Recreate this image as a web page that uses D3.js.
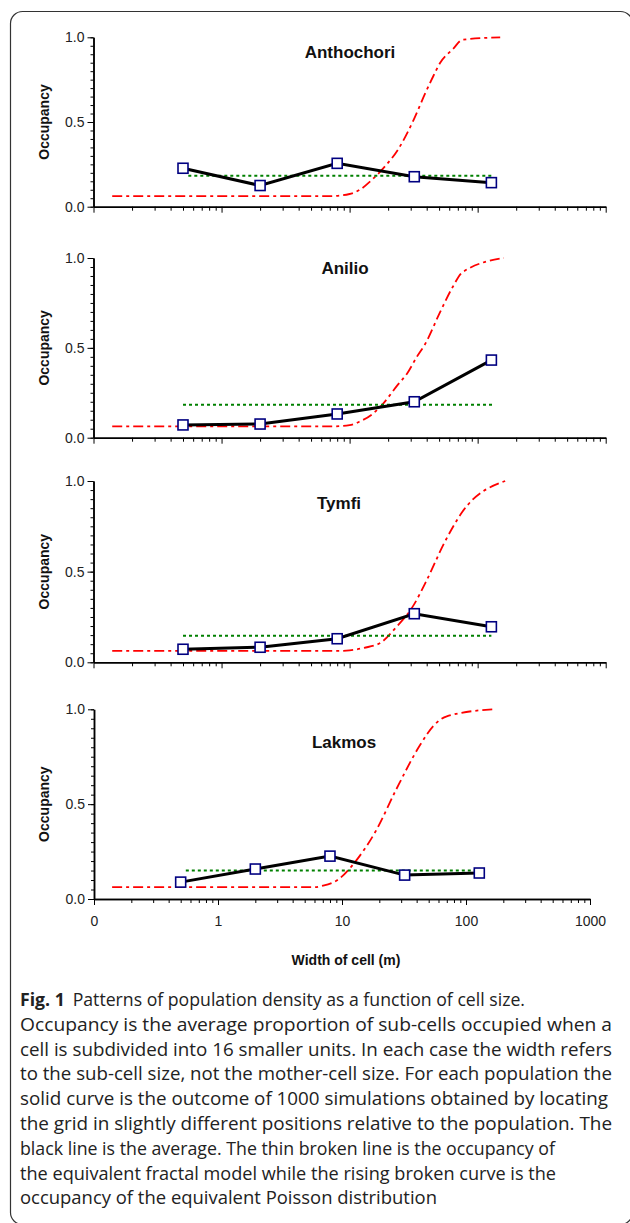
<!DOCTYPE html>
<html>
<head>
<meta charset="utf-8">
<script src="https://cdn.jsdelivr.net/npm/d3@7"></script>
<style>
  body { margin: 0; background: #fff; }
  svg { display: block; }
</style>
</head>
<body>
<div class="figure"></div>
<script>
  // data
  var panelNames = ["Anthochori", "Anilio", "Tymfi", "Lakmos"];
  var cellWidths = [0.5, 2, 8, 32, 128];
  var avgOccupancy = [
    [0.227, 0.125, 0.256, 0.177, 0.142],
    [0.071, 0.076, 0.132, 0.2, 0.432],
    [0.072, 0.083, 0.13, 0.268, 0.196],
    [0.089, 0.158, 0.226, 0.126, 0.137]
  ];
  var fractalLevel = [0.183, 0.183, 0.147, 0.15];
  var fractalFrom = [0.55, 0.5, 0.5, 0.55];
  var fractalTo = [130, 132, 128, 128];
  var poissonWidths = [
    [0.14, 7, 10, 12, 15, 19, 24, 31.5, 39, 45, 51, 64, 76, 150],
    [0.14, 7, 10, 12, 15, 18.3, 23.5, 28.3, 33.5, 38.8, 51, 64, 76, 160],
    [0.14, 8, 10, 13, 17.3, 23.3, 31.1, 40.1, 55, 76, 164],
    [0.14, 6, 7, 9.2, 13.1, 18.9, 27.2, 42.5, 55.2, 70, 163]
  ];
  var poissonOccupancy = [
    [0.0625, 0.0625, 0.075, 0.1, 0.16, 0.24, 0.34, 0.51, 0.67, 0.77, 0.85, 0.93, 0.985, 1.0],
    [0.0625, 0.0625, 0.07, 0.09, 0.13, 0.19, 0.29, 0.36, 0.45, 0.52, 0.7, 0.84, 0.92, 1.0],
    [0.0625, 0.0625, 0.066, 0.08, 0.106, 0.196, 0.307, 0.454, 0.66, 0.83, 1.0],
    [0.0625, 0.0625, 0.07, 0.1, 0.205, 0.363, 0.574, 0.81, 0.916, 0.963, 1.0]
  ];
  var xMajorTicks = [0.1, 1, 10, 100, 1000];
  var xTickLabels = ["0", "1", "10", "100", "1000"];
  var yMajorTicks = [0, 0.5, 1];
  var yTickLabels = ["0.0", "0.5", "1.0"];
  var captionLines = [
    "Occupancy is the average proportion of sub-cells occupied when a",
    "cell is subdivided into 16 smaller units. In each case the width refers",
    "to the sub-cell size, not the mother-cell size. For each population the",
    "solid curve is the outcome of 1000 simulations obtained by locating",
    "the grid in slightly different positions relative to the population. The",
    "black line is the average. The thin broken line is the occupancy of",
    "the equivalent fractal model while the rising broken curve is the",
    "occupancy of the equivalent Poisson distribution"
  ];
  // measured line widths of the printed caption
  var captionWidths = [505, 592, 592, 592, 588, 592, 535, 536, 417];

  // each panel was pasted in at its own size
  var layout = [
    {top: 37.3, bottom: 206.7, left: 93.5, right: 605.7, titleX: 350, titleY: 58},
    {top: 258, bottom: 437.7, left: 93.5, right: 605.7, titleX: 345, titleY: 274},
    {top: 481, bottom: 662.3, left: 93.5, right: 605.7, titleX: 339, titleY: 509},
    {top: 709.3, bottom: 899, left: 94, right: 590, titleX: 344, titleY: 748}
  ];

  var width = 630, height = 1223;
  var axisFont = '"Liberation Sans", Arial, Helvetica, sans-serif';

  var svg = d3.select(".figure").append("svg")
    .attr("width", width)
    .attr("height", height);

  // rounded frame, partly cut by the page
  svg.append("rect")
    .attr("x", 10.5).attr("y", 11.5)
    .attr("width", 622).attr("height", 1213)
    .attr("rx", 12).attr("ry", 12)
    .attr("fill", "none")
    .attr("stroke", "#333")
    .attr("stroke-width", 1.2);

  var xMinorTicks = [];
  [0.1, 1, 10, 100].forEach(function(d) {
    for (var k = 2; k <= 9; k++) xMinorTicks.push(d * k);
  });
  var yMinorTicks = d3.range(0, 21).map(function(i) { return i * 0.05; });

  panelNames.forEach(function(name, i) {
    var L = layout[i];
    var x = d3.scaleLog().domain([0.1, 1000]).range([L.left, L.right]);
    var y = d3.scaleLinear().domain([0, 1]).range([L.bottom, L.top]);
    var g = svg.append("g").attr("class", "panel");

    // y axis
    g.append("g")
      .attr("transform", "translate(" + L.left + ",0)")
      .call(d3.axisLeft(y).tickValues(yMinorTicks).tickSize(3).tickSizeOuter(0).tickFormat(""));
    g.append("g")
      .attr("transform", "translate(" + L.left + ",0)")
      .call(d3.axisLeft(y).tickValues(yMajorTicks).tickSize(6).tickSizeOuter(0).tickPadding(3)
        .tickFormat(function(d, j) { return yTickLabels[j]; }));

    // x axis
    g.append("g")
      .attr("transform", "translate(0," + L.bottom + ")")
      .call(d3.axisBottom(x).tickValues(xMinorTicks).tickSize(4).tickSizeOuter(0).tickFormat(""));
    g.append("g")
      .attr("transform", "translate(0," + L.bottom + ")")
      .call(d3.axisBottom(x).tickValues(xMajorTicks).tickSize(6).tickSizeOuter(0).tickPadding(11)
        .tickFormat(function(d, j) { return i === 3 ? xTickLabels[j] : ""; }));

    g.selectAll(".domain").attr("stroke", "#000").attr("stroke-width", 1.5);
    g.selectAll(".tick line").attr("stroke", "#000").attr("stroke-width", 1);
    g.selectAll(".tick text")
      .attr("font-family", axisFont)
      .attr("font-size", 14)
      .attr("fill", "#222");

    // y title
    g.append("text")
      .attr("transform", "translate(44," + ((L.top + L.bottom) / 2) + ") rotate(-90)")
      .attr("dy", "0.35em")
      .attr("text-anchor", "middle")
      .attr("font-family", axisFont)
      .attr("font-weight", "bold")
      .attr("font-size", 14)
      .attr("fill", "#111")
      .text("Occupancy");

    // panel title
    g.append("text")
      .attr("x", L.titleX).attr("y", L.titleY)
      .attr("text-anchor", "middle")
      .attr("font-family", axisFont)
      .attr("font-weight", "bold")
      .attr("font-size", 17)
      .attr("fill", "#111")
      .text(name);

    // Poisson curve
    var poisson = poissonWidths[i].map(function(w, j) { return [w, poissonOccupancy[i][j]]; });
    var line = d3.line()
      .x(function(d) { return x(d[0]); })
      .y(function(d) { return y(d[1]); })
      .curve(d3.curveMonotoneX);
    g.append("path")
      .datum(poisson)
      .attr("d", line)
      .attr("fill", "none")
      .attr("stroke", "#ff0000")
      .attr("stroke-width", 1.8)
      .attr("stroke-dasharray", "10,4,3,4");

    // fractal model
    g.append("path")
      .datum([[fractalFrom[i], fractalLevel[i]], [fractalTo[i], fractalLevel[i]]])
      .attr("d", d3.line().x(function(d) { return x(d[0]); }).y(function(d) { return y(d[1]); }))
      .attr("fill", "none")
      .attr("stroke", "#008000")
      .attr("stroke-width", 2)
      .attr("stroke-dasharray", "3,3");

    // average of simulations
    var avg = cellWidths.map(function(w, j) { return [w, avgOccupancy[i][j]]; });
    g.append("path")
      .datum(avg)
      .attr("d", d3.line().x(function(d) { return x(d[0]); }).y(function(d) { return y(d[1]); }))
      .attr("fill", "none")
      .attr("stroke", "#000")
      .attr("stroke-width", 3);

    g.selectAll(".pt")
      .data(avg)
      .enter().append("rect")
      .attr("class", "pt")
      .attr("x", function(d) { return x(d[0]) - 5; })
      .attr("y", function(d) { return y(d[1]) - 5; })
      .attr("width", 10)
      .attr("height", 10)
      .attr("fill", "#fff")
      .attr("stroke", "#000080")
      .attr("stroke-width", 1.6);
  });

  svg.append("text")
    .attr("x", 346).attr("y", 965)
    .attr("text-anchor", "middle")
    .attr("font-family", axisFont)
    .attr("font-weight", "bold")
    .attr("font-size", 14)
    .attr("fill", "#111")
    .text("Width of cell (m)");

  // caption
  var capFont = '"Open Sans", "Noto Sans", sans-serif';
  var cap = svg.append("g").attr("font-family", capFont).attr("font-size", 18).attr("fill", "#222");
  var first = cap.append("text").attr("x", 20).attr("y", 1006)
    .attr("textLength", captionWidths[0]).attr("lengthAdjust", "spacingAndGlyphs");
  first.append("tspan").attr("font-weight", "bold").text("Fig. 1");
  first.append("tspan").attr("dx", 8).text("Patterns of population density as a function of cell size.");
  captionLines.forEach(function(t, j) {
    cap.append("text")
      .attr("x", 20)
      .attr("y", 1006 + (j + 1) * 24.8)
      .attr("textLength", captionWidths[j + 1])
      .attr("lengthAdjust", "spacingAndGlyphs")
      .text(t);
  });
</script>
</body>
</html>
